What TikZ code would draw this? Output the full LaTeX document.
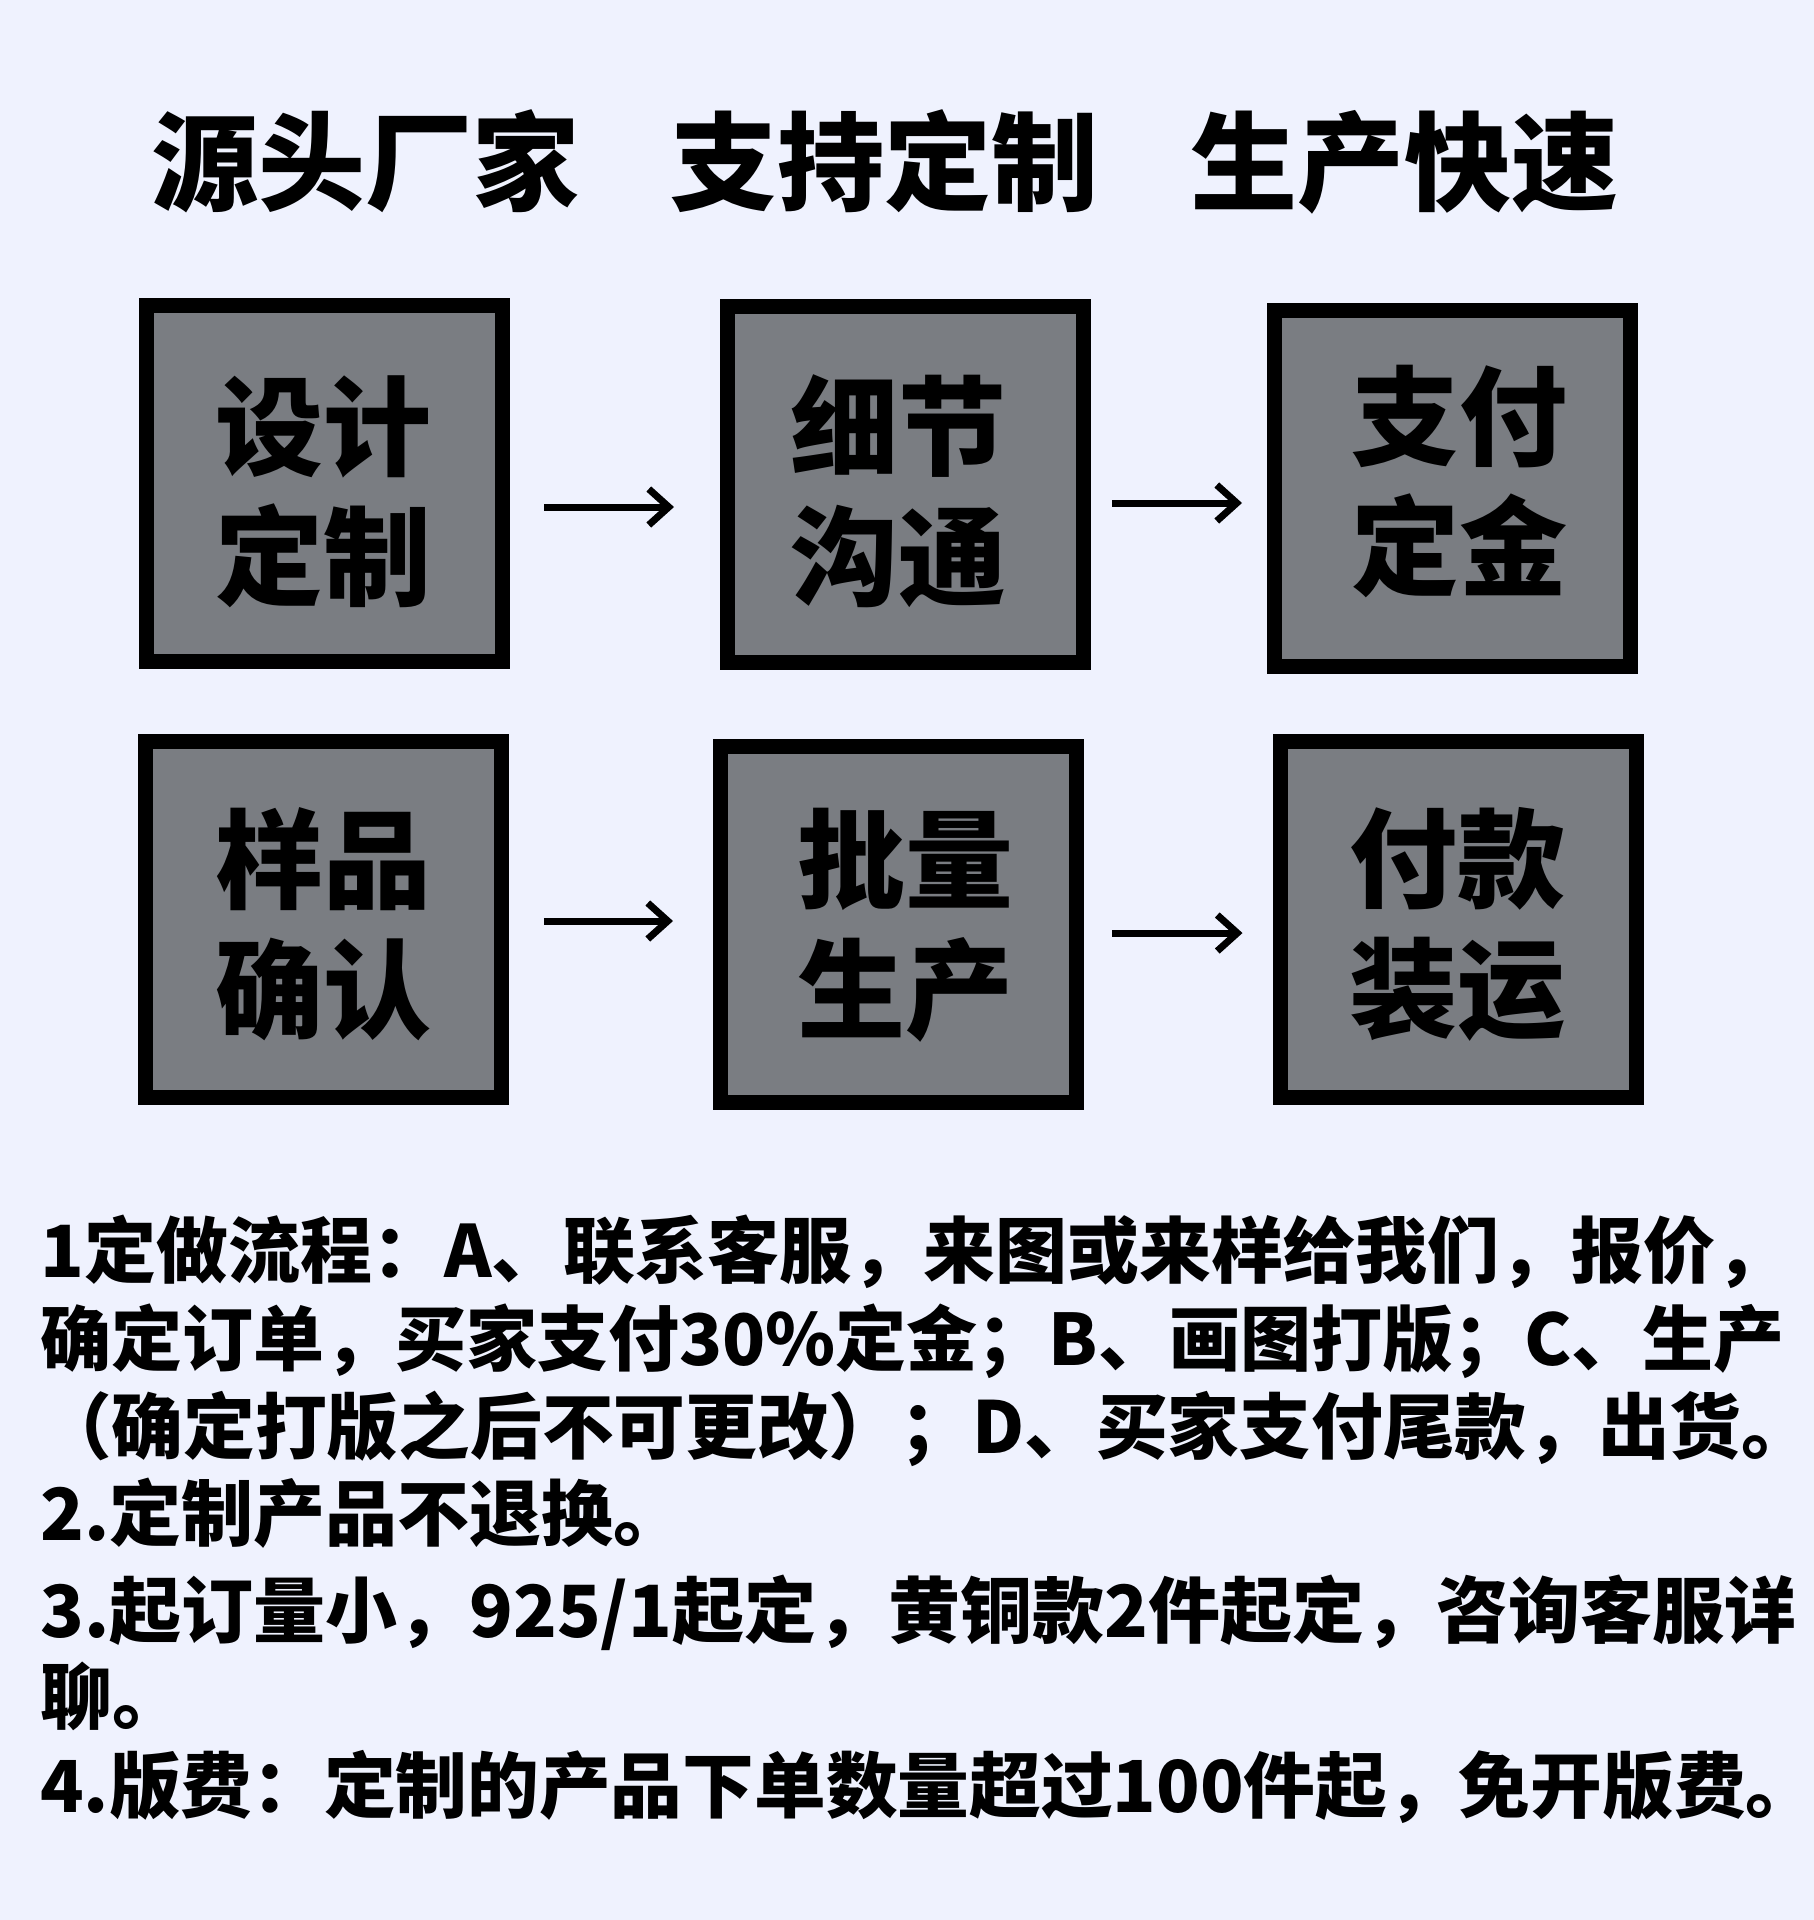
\documentclass[tikz,border=0pt]{standalone}
\usepackage{fontspec}
\newfontfamily\cjk{Noto Sans CJK SC}
\usetikzlibrary{calc,arrows.meta}
\definecolor{bgcol}{RGB}{239,242,254}
\definecolor{boxgray}{RGB}{122,125,130}
\begin{document}
\begin{tikzpicture}[x=1pt,y=-1pt,
  stepbox/.style={draw=black,line width=15pt,fill=boxgray,minimum width=356pt,minimum height=356pt,inner sep=0pt},
  boxtext/.style={font=\cjk\bfseries\fontsize{108}{130}\selectfont,align=center,inner sep=0pt,text=black},
  arr/.style={line width=7pt,-{Straight Barb[length=20pt,width=36pt]}},
  body/.style={anchor=base west,inner sep=0pt,font=\cjk\bfseries\fontsize{72}{88}\selectfont,text=black},
  bodyn/.style={body,font=\cjk\bfseries\fontsize{71.7}{88}\selectfont}]
\fill[bgcol] (0,0) rectangle (1814,1920);
\useasboundingbox (0,0) rectangle (1814,1920);

\node[font=\cjk\bfseries\fontsize{107}{120}\selectfont,inner sep=0pt] (title) at (885,162) {源头厂家\hspace{92pt}支持定制\hspace{92pt}生产快速};

\node[stepbox] (b1) at (324.5,483.5) {};
\node[stepbox] (b2) at (905.5,484) {};
\node[stepbox] (b3) at (1452.5,488) {};
\node[stepbox] (b4) at (323.75,919) {};
\node[stepbox] (b5) at (898.5,924) {};
\node[stepbox] (b6) at (1458,919) {};

\node[boxtext] (t1) at (323,492) {设计\\定制};
\node[boxtext] (t2) at (898,491) {细节\\沟通};
\node[boxtext] (t3) at (1459,481.5) {支付\\定金};
\node[boxtext] (t4) at (323,924) {样品\\确认};
\node[boxtext] (t5) at (905.5,925) {批量\\生产};
\node[boxtext] (t6) at (1457,924.5) {付款\\装运};

\draw[arr] ($(b1.east)+(34,23.5)$) -- ($(b2.west)+(-46,23)$);
\draw[arr] ($(b2.east)+(21,19)$) -- ($(b3.west)+(-25,15)$);
\draw[arr] ($(b4.east)+(34.5,2)$) -- ($(b5.west)+(-40,-3)$);
\draw[arr] ($(b5.east)+(28,9)$) -- ($(b6.west)+(-30,14)$);

\node[body] (l1) at (40,1277) {1定做流程：A、联系客服，来图或来样给我们，报价，};
\node[body,font=\cjk\bfseries\fontsize{71}{88}\selectfont] (l2) at (40,1365) {确定订单，买家支付30\%定金；B、画图打版；C、生产};
\node[bodyn] (l3) at (40,1453) {（确定打版之后不可更改）；D、买家支付尾款，出货\rlap{。}};
\node[body] (l4) at (40,1540) {2.定制产品不退换。};
\node[body] (l5) at (40,1637) {3.起订量小，925/1起定，黄铜款2件起定，咨询客服详};
\node[body] (l6) at (40,1723) {聊。};
\node[bodyn] (l7) at (40,1812) {4.版费：定制的产品下单数量超过100件起，免开版费\rlap{。}};
\end{tikzpicture}
\end{document}
